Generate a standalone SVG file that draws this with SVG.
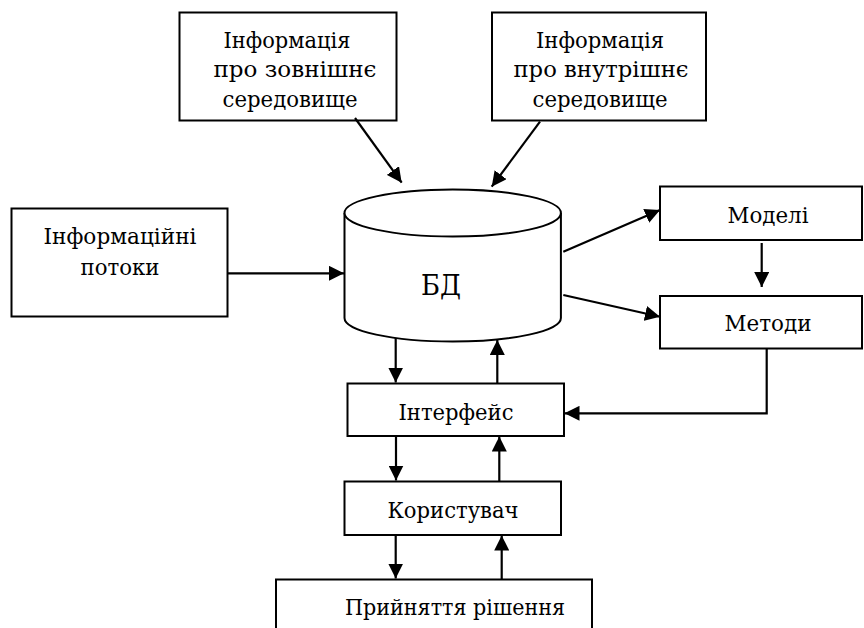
<svg xmlns="http://www.w3.org/2000/svg" width="864" height="628" viewBox="0 0 864 628">
<defs>
<style>
.box{fill:#fff;stroke:#000;stroke-width:2}
.t{font-family:"DejaVu Serif",serif;font-size:22px;fill:#000;text-anchor:middle}
.big{font-size:27px}
.c{fill:none;stroke:#000;stroke-width:2.2}
</style>
<marker id="ah" viewBox="0 0 15 15" refX="15" refY="7.5" markerWidth="15" markerHeight="15" markerUnits="userSpaceOnUse" orient="auto">
<path d="M0,0 L15,7.5 L0,15 z" fill="#000"/>
</marker>
</defs>
<rect width="864" height="628" fill="#fff"/>
<g id="ext">
<rect class="box" x="179.5" y="12.5" width="217" height="108"/>
<text class="t" x="287" y="48" textLength="127" lengthAdjust="spacingAndGlyphs">Інформація</text>
<text class="t" x="295" y="77" textLength="163" lengthAdjust="spacingAndGlyphs">про зовнішнє</text>
<text class="t" x="290" y="107" textLength="135" lengthAdjust="spacingAndGlyphs">середовище</text>
</g>
<g id="int">
<rect class="box" x="492" y="12.5" width="214" height="108"/>
<text class="t" x="600" y="48" textLength="128" lengthAdjust="spacingAndGlyphs">Інформація</text>
<text class="t" x="601" y="77" textLength="175" lengthAdjust="spacingAndGlyphs">про внутрішнє</text>
<text class="t" x="600" y="107" textLength="135" lengthAdjust="spacingAndGlyphs">середовище</text>
</g>
<g id="flows">
<rect class="box" x="11.5" y="208.5" width="216" height="108"/>
<text class="t" x="120" y="244" textLength="153" lengthAdjust="spacingAndGlyphs">Інформаційні</text>
<text class="t" x="120" y="275" textLength="79" lengthAdjust="spacingAndGlyphs">потоки</text>
</g>
<g id="db">
<path class="box" d="M344.5,213 L344.5,318 A108.2,23.5 0 0 0 560.9,318 L560.9,213"/>
<ellipse class="box" cx="452.7" cy="213" rx="108.2" ry="23.5"/>
<text class="t big" x="441" y="295" textLength="40" lengthAdjust="spacingAndGlyphs">БД</text>
</g>
<g id="models">
<rect class="box" x="660" y="186.5" width="202" height="53.5"/>
<text class="t" x="768" y="223" textLength="81" lengthAdjust="spacingAndGlyphs">Моделі</text>
</g>
<g id="methods">
<rect class="box" x="660" y="296" width="202" height="52.5"/>
<text class="t" x="768" y="331" textLength="87" lengthAdjust="spacingAndGlyphs">Методи</text>
</g>
<g id="iface">
<rect class="box" x="347.5" y="383.5" width="216.5" height="52.5"/>
<text class="t" x="456" y="420" textLength="115" lengthAdjust="spacingAndGlyphs">Інтерфейс</text>
</g>
<g id="user">
<rect class="box" x="344.5" y="481.5" width="216.5" height="53.5"/>
<text class="t" x="453" y="518" textLength="131" lengthAdjust="spacingAndGlyphs">Користувач</text>
</g>
<g id="decision">
<path class="box" d="M276,630 L276,579.5 L592,579.5 L592,630"/>
<text class="t" x="455" y="615" textLength="220" lengthAdjust="spacingAndGlyphs">Прийняття рішення</text>
</g>
<g id="connectors">
<line class="c" x1="355" y1="118" x2="401.7" y2="182.7" marker-end="url(#ah)"/>
<line class="c" x1="540" y1="121.7" x2="491.7" y2="186.7" marker-end="url(#ah)"/>
<line class="c" x1="227.5" y1="273.3" x2="344" y2="273.3" marker-end="url(#ah)"/>
<line class="c" x1="563.3" y1="251.7" x2="660" y2="210" marker-end="url(#ah)"/>
<line class="c" x1="563.3" y1="295" x2="660" y2="316.7" marker-end="url(#ah)"/>
<line class="c" x1="761.7" y1="243" x2="761.7" y2="287" marker-end="url(#ah)"/>
<polyline class="c" points="766.7,348.5 766.7,413.3 564.5,413.3" marker-end="url(#ah)"/>
<line class="c" x1="395.7" y1="338" x2="395.7" y2="382.5" marker-end="url(#ah)"/>
<line class="c" x1="497.3" y1="383.5" x2="497.3" y2="340" marker-end="url(#ah)"/>
<line class="c" x1="396" y1="436" x2="396" y2="480.5" marker-end="url(#ah)"/>
<line class="c" x1="499.3" y1="481.5" x2="499.3" y2="436.5" marker-end="url(#ah)"/>
<line class="c" x1="395.7" y1="535" x2="395.7" y2="578.5" marker-end="url(#ah)"/>
<line class="c" x1="501.7" y1="579.5" x2="501.7" y2="535.5" marker-end="url(#ah)"/>
</g>
</svg>
